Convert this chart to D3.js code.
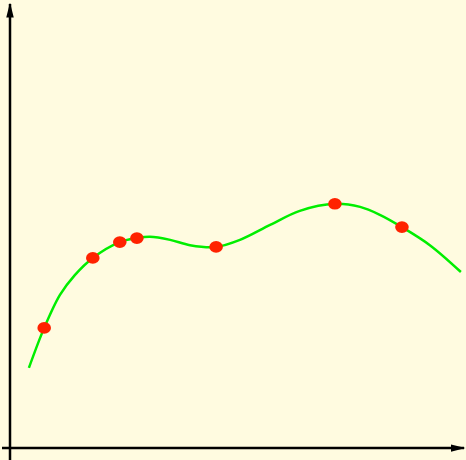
<!DOCTYPE html>
<html><head><meta charset="utf-8">
<script src="https://cdn.jsdelivr.net/npm/d3@7"></script>
<style>html,body{margin:0;padding:0;background:#fffbe0;}svg{display:block;}</style>
</head><body>
<script>
// Observed data points
const pointX = [0.76, 1.84, 2.44, 2.82, 4.58, 7.22, 8.71];
const pointY = [2.73, 4.32, 4.68, 4.77, 4.57, 5.55, 5.02];
// Fitted curve
const curveX = [0.42, 0.76, 1.11, 1.44, 1.84, 2.44, 2.82, 3.11, 3.56, 4.00, 4.58, 5.11, 5.78, 6.44, 7.22, 7.78, 8.22, 8.71, 9.33, 10.02];
const curveY = [1.82, 2.73, 3.48, 3.93, 4.32, 4.68, 4.77, 4.80, 4.73, 4.61, 4.57, 4.73, 5.07, 5.39, 5.55, 5.48, 5.30, 5.02, 4.61, 4.00];

const W = 466, H = 460;
const svg = d3.select("body").append("svg").attr("width", W).attr("height", H);
svg.append("rect").attr("width", W).attr("height", H).attr("fill", "#fffbe0");

const x = d3.scaleLinear().domain([0, 10]).range([10, 460]);
const y = d3.scaleLinear().domain([0, 10]).range([448, 8]);

const defs = svg.append("defs");
defs.append("marker").attr("id", "arr").attr("viewBox", "0 0 10 10")
  .attr("refX", 9).attr("refY", 5).attr("markerWidth", 6).attr("markerHeight", 6)
  .attr("orient", "auto").attr("markerUnits", "strokeWidth")
  .append("path").attr("d", "M0,2.5 L10,5 L0,7.5 Z").attr("fill", "#000");

// axes
svg.append("line").attr("x1", 2).attr("y1", y(0)).attr("x2", 464).attr("y2", y(0))
  .attr("stroke", "#000").attr("stroke-width", 2.5).attr("marker-end", "url(#arr)");
svg.append("line").attr("x1", x(0)).attr("y1", 460).attr("x2", x(0)).attr("y2", 4)
  .attr("stroke", "#000").attr("stroke-width", 2.5).attr("marker-end", "url(#arr)");

const line = d3.line().x((d, i) => x(curveX[i])).y((d, i) => y(curveY[i])).curve(d3.curveCatmullRom.alpha(0.5));
svg.append("path").datum(curveX).attr("d", line).attr("fill", "none")
  .attr("stroke", "#00ee00").attr("stroke-width", 2.5);

svg.selectAll("ellipse.pt").data(pointX).enter().append("ellipse")
  .attr("cx", (d) => x(d)).attr("cy", (d, i) => y(pointY[i]))
  .attr("rx", 6.8).attr("ry", 5.8).attr("fill", "#ff2200");
</script>
</body></html>
